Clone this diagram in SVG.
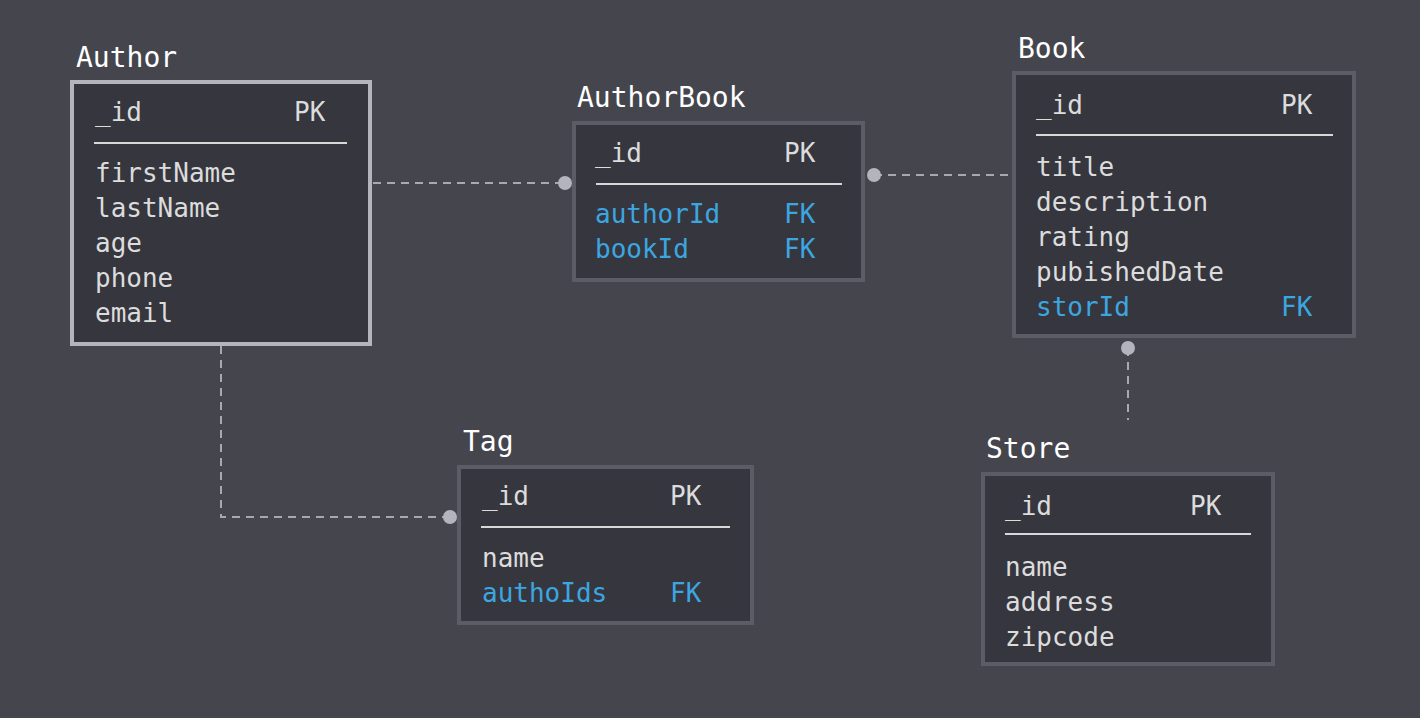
<svg xmlns="http://www.w3.org/2000/svg" width="1420" height="718" viewBox="0 0 1420 718">
<style>
.bg{fill:#45454e}
.box{fill:#36363e;stroke:#5c5c66;stroke-width:4}
.sel{stroke:#b4b4bc}
.title{font-family:"DejaVu Sans Mono","Liberation Mono",monospace;font-size:28px;fill:#ffffff}
.f{font-family:"DejaVu Sans Mono","Liberation Mono",monospace;font-size:26px;fill:#dcdcdc}
.fk{fill:#3ca6e0}
.sep{stroke:#d8d8d8;stroke-width:2}
.con{fill:none;stroke:#a8a8b0;stroke-width:2;stroke-dasharray:8 6}
.dot{fill:#b4b4bc}
</style>
<rect class="bg" x="0" y="0" width="1420" height="718"/>
<g id="connectors">
<line class="con" x1="373" y1="183" x2="565" y2="183"/>
<circle class="dot" cx="565" cy="183" r="7"/>
<line class="con" x1="874" y1="175" x2="1012" y2="175"/>
<circle class="dot" cx="874" cy="175" r="7"/>
<line class="con" x1="1128" y1="348" x2="1128" y2="420"/>
<circle class="dot" cx="1128" cy="348" r="7"/>
<path class="con" d="M221,346 V517 H450"/>
<circle class="dot" cx="450" cy="517" r="7"/>
</g>
<g id="Author">
<text class="title" x="76" y="67">Author</text>
<rect class="box sel" x="72" y="82" width="298" height="262"/>
<text class="f" x="95" y="121">_id</text>
<text class="f" x="294" y="121">PK</text>
<line class="sep" x1="94" y1="143" x2="347" y2="143"/>
<text class="f" x="95" y="182">firstName</text>
<text class="f" x="95" y="217">lastName</text>
<text class="f" x="95" y="252">age</text>
<text class="f" x="95" y="287">phone</text>
<text class="f" x="95" y="322">email</text>
</g>
<g id="AuthorBook">
<text class="title" x="577" y="107">AuthorBook</text>
<rect class="box" x="574" y="123" width="289" height="157"/>
<text class="f" x="595" y="162">_id</text>
<text class="f" x="784" y="162">PK</text>
<line class="sep" x1="596" y1="184" x2="842" y2="184"/>
<text class="f fk" x="595" y="223">authorId</text>
<text class="f fk" x="784" y="223">FK</text>
<text class="f fk" x="595" y="258">bookId</text>
<text class="f fk" x="784" y="258">FK</text>
</g>
<g id="Book">
<text class="title" x="1018" y="58">Book</text>
<rect class="box" x="1014" y="73" width="340" height="263"/>
<text class="f" x="1036" y="114">_id</text>
<text class="f" x="1281" y="114">PK</text>
<line class="sep" x1="1036" y1="135" x2="1333" y2="135"/>
<text class="f" x="1036" y="176">title</text>
<text class="f" x="1036" y="211">description</text>
<text class="f" x="1036" y="246">rating</text>
<text class="f" x="1036" y="281">pubishedDate</text>
<text class="f fk" x="1036" y="316">storId</text>
<text class="f fk" x="1281" y="316">FK</text>
</g>
<g id="Tag">
<text class="title" x="463" y="451">Tag</text>
<rect class="box" x="459" y="467" width="293" height="156"/>
<text class="f" x="482" y="505">_id</text>
<text class="f" x="670" y="505">PK</text>
<line class="sep" x1="481" y1="527" x2="730" y2="527"/>
<text class="f" x="482" y="567">name</text>
<text class="f fk" x="482" y="602">authoIds</text>
<text class="f fk" x="670" y="602">FK</text>
</g>
<g id="Store">
<text class="title" x="986" y="458">Store</text>
<rect class="box" x="983" y="474" width="290" height="190"/>
<text class="f" x="1005" y="515">_id</text>
<text class="f" x="1190" y="515">PK</text>
<line class="sep" x1="1005" y1="534" x2="1251" y2="534"/>
<text class="f" x="1005" y="576">name</text>
<text class="f" x="1005" y="611">address</text>
<text class="f" x="1005" y="646">zipcode</text>
</g>
</svg>
